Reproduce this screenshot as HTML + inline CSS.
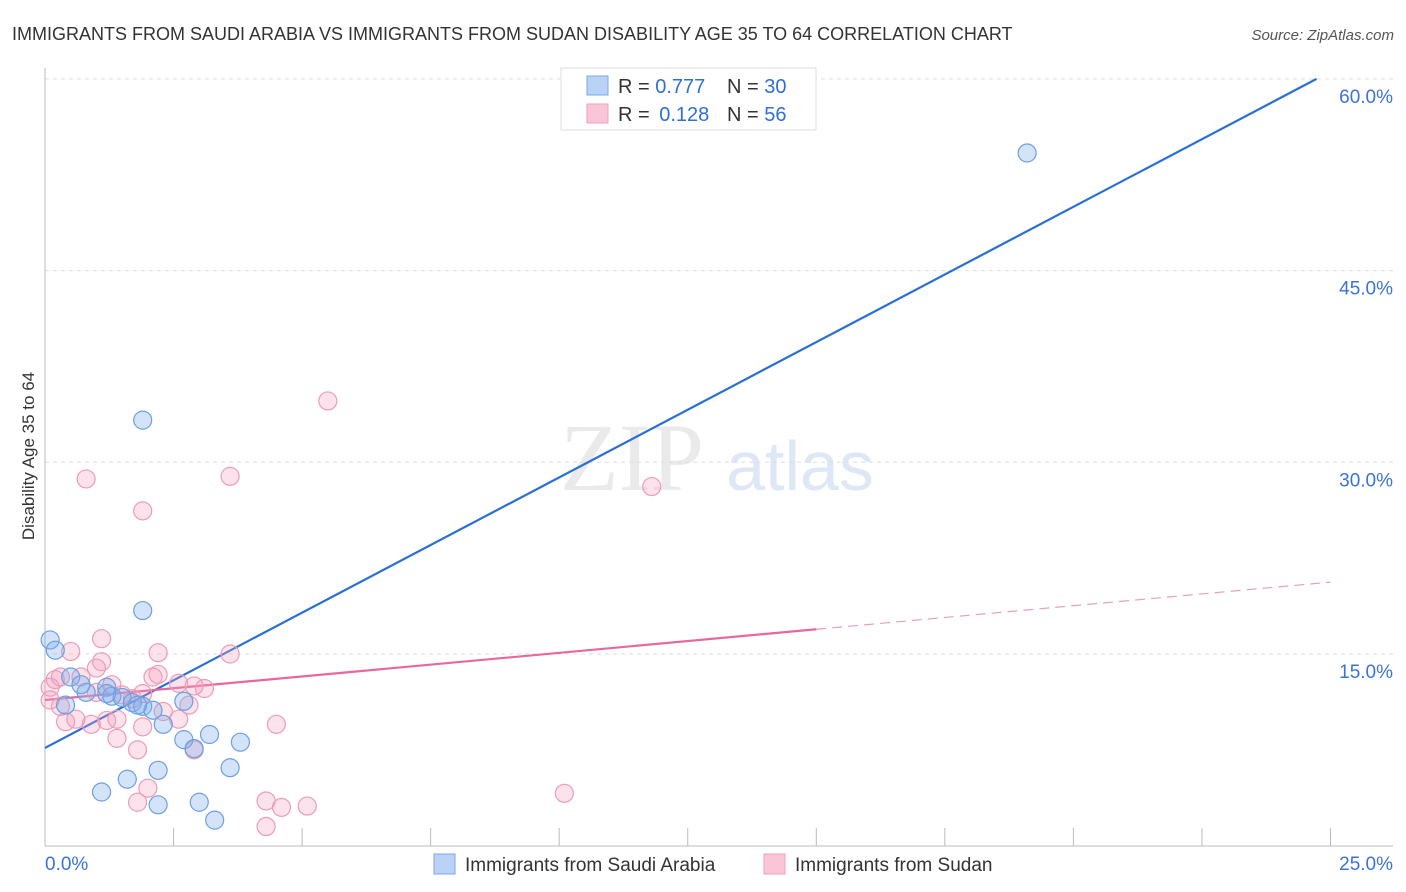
<!DOCTYPE html>
<html><head><meta charset="utf-8">
<style>
body{margin:0;background:#fff;font-family:"Liberation Sans",sans-serif;}
#wrap{position:relative;width:1406px;height:892px;overflow:hidden;}
</style></head>
<body>
<div id="wrap">
<svg id="chart" width="1406" height="892" xmlns="http://www.w3.org/2000/svg">
<text x="12" y="40" font-size="18" fill="#333">IMMIGRANTS FROM SAUDI ARABIA VS IMMIGRANTS FROM SUDAN DISABILITY AGE 35 TO 64 CORRELATION CHART</text>
<text x="1394" y="40" font-size="15" fill="#555" font-style="italic" text-anchor="end">Source: ZipAtlas.com</text>
<text x="34" y="456" font-size="17" fill="#333" text-anchor="middle" transform="rotate(-90 34 456)">Disability Age 35 to 64</text>
<g><text x="632" y="490" font-size="96" fill="#ddd" font-family="Liberation Serif,serif" text-anchor="middle" opacity="0.6">ZIP</text><text x="800" y="490" font-size="70" fill="#c8d8f0" text-anchor="middle" opacity="0.6">atlas</text></g>
<g id="grid"></g><g id="axes"></g><g id="lines"></g><g id="pts"></g>
<g>
<rect x="561" y="68" width="255" height="62" fill="#fff" stroke="#ddd"/>
<rect x="587" y="76" width="21" height="19" fill="#b9d2f5" stroke="#7aa7e6"/>
<rect x="587" y="104" width="21" height="19" fill="#fac5d6" stroke="#eea1bb"/>
<text x="618" y="93" font-size="20" fill="#333">R = <tspan fill="#2f6fd6">0.777</tspan><tspan x="727">N = </tspan><tspan fill="#2f6fd6">30</tspan></text>
<text x="618" y="121" font-size="20" fill="#333">R = <tspan fill="#2f6fd6" dx="4">0.128</tspan><tspan x="727">N = </tspan><tspan fill="#2f6fd6">56</tspan></text>
</g>
<g>
<rect x="434" y="854" width="21" height="20" fill="#b9d2f5" stroke="#7aa7e6"/>
<text x="465" y="871" font-size="19" fill="#333">Immigrants from Saudi Arabia</text>
<rect x="764" y="854" width="21" height="20" fill="#fac5d6" stroke="#eea1bb"/>
<text x="795" y="871" font-size="19" fill="#333">Immigrants from Sudan</text>
</g>
</svg>
</div>
<script>
const yTicks=[15,30,45,60];
const xTickLabels=["0.0%","25.0%"];
const blueX=[19.1,1.9,1.9,0.1,0.2,0.5,0.8,1.2,1.3,1.5,1.7,1.9,2.1,2.3,2.7,2.9,3.2,3.8,0.7,0.4,1.2,2.2,1.6,1.1,3.6,3.0,2.2,1.8,2.7,3.3];
const blueY=[54.2,33.3,18.4,16.1,15.3,13.2,12.0,12.4,11.7,11.6,11.2,10.9,10.6,9.5,8.3,7.6,8.7,8.1,12.6,11.0,11.9,5.9,5.2,4.2,6.1,3.4,3.2,11.0,11.3,2.0];
const pinkX=[5.5,0.8,3.6,1.9,11.8,10.1,1.1,0.5,2.2,3.6,1.1,1.0,2.2,0.7,1.3,2.1,2.6,2.9,0.2,0.3,3.1,1.0,1.9,1.7,1.5,2.8,0.3,0.4,0.9,1.4,2.3,2.6,1.9,4.5,0.6,1.2,1.4,1.8,2.9,0.1,0.1,2.0,1.8,4.3,4.6,5.1,4.3];
const pinkY=[34.8,28.7,28.9,26.2,28.1,4.1,16.2,15.2,15.1,15.0,14.4,13.9,13.4,13.2,12.6,13.2,12.7,12.5,13.0,13.2,12.3,12.0,11.9,11.5,11.8,11.0,10.9,9.7,9.5,9.9,10.5,9.9,9.3,9.5,9.9,9.8,8.4,7.5,7.5,12.4,11.4,4.5,3.4,3.5,3.0,3.1,1.5];
const blueFit=[7.65,2.117];
const pinkFit=[11.4,0.369];
const NS="http://www.w3.org/2000/svg";
const X=v=>45+v*51.42, Y=v=>845.7-v*12.78;
function mk(t,a,p){const e=document.createElementNS(NS,t);for(const k in a)e.setAttribute(k,a[k]);p.appendChild(e);return e;}
const grid=document.getElementById('grid'),axes=document.getElementById('axes'),lines=document.getElementById('lines'),pts=document.getElementById('pts');
yTicks.forEach(t=>{
 const l=mk('line',{x1:45,x2:1393,y1:Y(t),y2:Y(t),stroke:'#ddd','stroke-dasharray':'4,4'},grid);
 
 
 const tx=mk('text',{x:1393,y:Y(t)+24,'font-size':19,fill:'#3a74d6','text-anchor':'end'},axes);
 tx.textContent=t.toFixed(1)+'%';
 
 
});
const ax=mk('line',{x1:45,x2:45,y1:68,y2:846,stroke:'#bbb'},axes);


const bx=mk('line',{x1:45,x2:1393,y1:846,y2:846,stroke:'#bbb'},axes);


for(let i=0;i<=10;i++){const tk=mk('line',{x1:X(i*2.5),x2:X(i*2.5),y1:828,y2:846,stroke:'#bbb'},axes);
 
 }
[[0,'start',45],[25,'end',1393]].forEach((d,i)=>{const t=mk('text',{x:d[2],y:870,'font-size':19,fill:'#3a74d6','text-anchor':d[1]},axes);t.textContent=xTickLabels[i];
 
 });
function dots(xs,ys,fill,stroke,name){xs.forEach((x,i)=>{const c=mk('circle',{cx:X(x),cy:Y(ys[i]),r:9,fill:fill,stroke:stroke,'stroke-width':1.2},pts);
 
 });}
dots(pinkX,pinkY,'rgba(245,160,190,0.3)','#ec9cb8','sudan-point');
dots(blueX,blueY,'rgba(130,175,235,0.35)','#6d9fe2','saudi-point');
const bEnd=(60-blueFit[0])/blueFit[1];
const bl=mk('line',{x1:X(0),y1:Y(blueFit[0]),x2:X(bEnd),y2:Y(60),stroke:'#2a6fd4','stroke-width':2.2},lines);


const pl=mk('line',{x1:X(0),y1:Y(pinkFit[0]),x2:X(15),y2:Y(pinkFit[0]+15*pinkFit[1]),stroke:'#e8689a','stroke-width':2.2},lines);


const pd=mk('line',{x1:X(15),y1:Y(pinkFit[0]+15*pinkFit[1]),x2:X(25),y2:Y(pinkFit[0]+25*pinkFit[1]),stroke:'#e8a0bb','stroke-width':1.2,'stroke-dasharray':'10,6'},lines);


</script>
</body></html>
